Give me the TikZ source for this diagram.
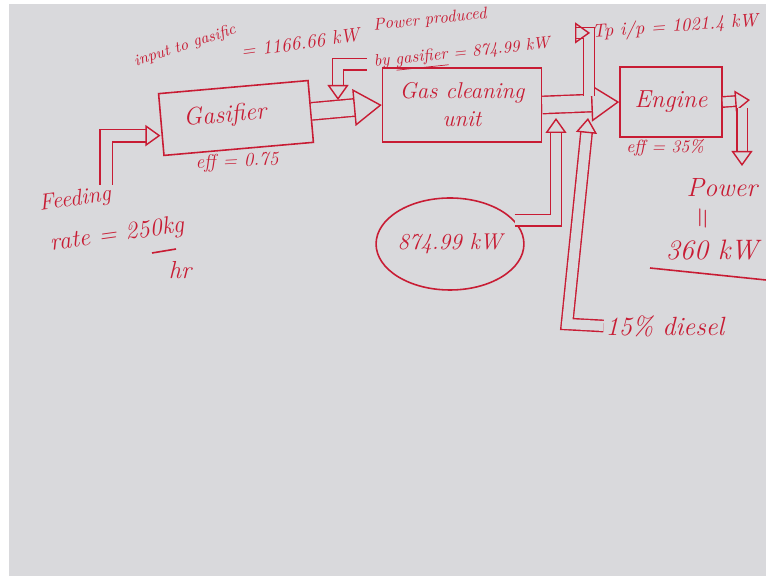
\documentclass[tikz,border=0pt]{standalone}
\usetikzlibrary{arrows.meta,shapes.geometric}
\definecolor{ink}{RGB}{200,28,52}
\definecolor{paper}{RGB}{217,217,220}
\tikzset{
  box/.style={draw=ink, line width=0.9pt, inner sep=0pt},
  note/.style={text=ink, inner sep=1pt, font=\itshape\fontsize{#1}{#1}\selectfont},
  note/.default=10,
  hollow/.style={draw=ink, line width=0.8pt, double=paper, double distance=#1},
  hollow/.default=0.2cm,
  bigtip/.style={-{Triangle[open, length=0.56cm, width=0.74cm, line width=0.8pt]}},
  smalltip/.style={-{Triangle[open, length=0.3cm, width=0.42cm, line width=0.8pt]}}
}
\begin{document}
\begin{tikzpicture}
    \useasboundingbox (0,0) rectangle (15.32,11.52);
    \fill[paper] (0.18,0) rectangle (15.32,11.44);
    % units
    \node[box, minimum width=3.0cm, minimum height=1.24cm, rotate=5] (Gasifier) at (4.72,9.16) {};
    \node[note=14, rotate=5] (gastxt) at (4.5,9.2) {Gasifier};
    \node[box, minimum width=3.18cm, minimum height=1.48cm, align=center, text=ink,
          font=\itshape\fontsize{13}{16}\selectfont] (Cleaning) at (9.24,9.42) {Gas cleaning\\unit};
    \node[box, minimum width=2.04cm, minimum height=1.4cm, text=ink,
          font=\itshape\fontsize{14}{16}\selectfont] (Engine) at (13.42,9.48) {Engine};
    \node[draw=ink, line width=0.9pt, ellipse, minimum width=2.6cm, minimum height=1.84cm,
          inner sep=0pt, text=ink, font=\itshape\fontsize{13}{15}\selectfont] (Ellipse) at (9.0,6.64) {874.99 kW};
    % labels
    \node[note=9, rotate=18] (inp1) at (3.7,10.6) {input to gasific};
    \node[note=11, rotate=8] (inp2) at (6.0,10.66) {= 1166.66 kW};
    \node[note=9.5, rotate=6] (pp1) at (8.6,11.12) {Power produced};
    \node[note=9.5, rotate=6] (pp2) at (9.24,10.42) {by \underline{gasifier} = 874.99 kW};
    \node[note=10.5, rotate=4] (tp) at (13.5,10.98) {Tp i/p = 1021.4 kW};
    \node[note=11, rotate=3] (eff1) at (4.74,8.28) {eff = 0.75};
    \node[note=10] (eff2) at (13.3,8.56) {eff = 35\%};
    \node[note=13, rotate=8] (feed1) at (1.5,7.52) {Feeding};
    \node[note=14, rotate=8] (feed2) at (2.34,6.82) {rate = 250kg};
    \node[note=14] (hr) at (3.6,6.12) {hr};
    \draw[ink, line width=0.9pt] (3.04,6.46) -- (3.52,6.54);
    \node[note=15] (Power) at (14.44,7.76) {Power};
    \node[note=17, rotate=90] (eq) at (14.1,7.12) {=};
    \node[note=16] (kw) at (14.24,6.52) {360 kW};
    \draw[ink, line width=0.9pt] (13.0,6.16) -- (15.32,5.92);
    \node[note=15] (Diesel) at (13.3,5.0) {15\% diesel};
    % connector points
    \coordinate (feed) at (2.12,7.82);
    \coordinate (gasmid) at (6.76,9.52);
    \coordinate (tpmid) at (11.78,9.6);
    \coordinate (elltip) at (11.12,9.16);
    \coordinate (dcorner) at (11.34,5.04);
    \coordinate (dieseltip) at (11.76,9.16);
    \coordinate (engout) at (15.0,9.52);
    \coordinate (engdn) at (14.84,9.36);
    \coordinate (powtip) at (14.84,8.2);
    % flows
    \draw[hollow=0.22cm, smalltip] (feed) |- ([yshift=-0.22cm]Gasifier.west);
    \draw[hollow=0.32cm, bigtip] (Gasifier.east) -- (Cleaning.west);
    \draw[hollow=0.32cm, bigtip] (Cleaning.east) -- (Engine.west);
    \draw[hollow, smalltip] ([xshift=-3pt]pp2.west) -| (gasmid);
    \draw[hollow, smalltip] (tpmid) |- (tp.west);
    \draw[hollow, smalltip] (Ellipse.20) -| (elltip);
    \draw[hollow, smalltip] (Diesel.west) -- (dcorner) -- (dieseltip);
    \draw[hollow=0.18cm, smalltip] (Engine.east) -- (engout);
    \draw[hollow=0.18cm, smalltip] (engdn) -- (powtip);
\end{tikzpicture}
\end{document}
